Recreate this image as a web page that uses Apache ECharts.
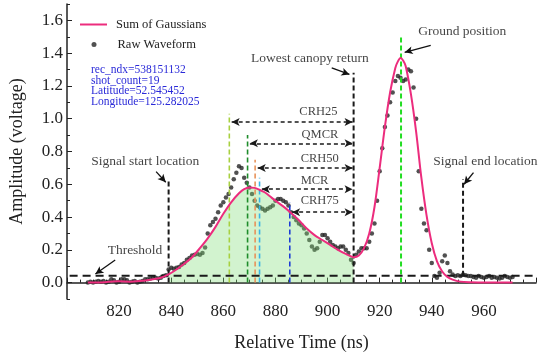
<!DOCTYPE html>
<html><head><meta charset="utf-8">
<script src="https://cdn.jsdelivr.net/npm/echarts@6/dist/echarts.min.js"></script>
<style>html,body{margin:0;padding:0;background:#fff}#c{width:548px;height:357px}</style>
</head><body><div id="c"></div>
<script>
// ---- data ----
const xLabelValues = [820, 840, 860, 880, 900, 920, 940, 960];
const yLabelValues = [0, 0.2, 0.4, 0.6, 0.8, 1.0, 1.2, 1.4, 1.6];
const yMinorValues = [-0.1, 0.1, 0.3, 0.5, 0.7, 0.9, 1.1, 1.3, 1.5, 1.7];

// Sum of Gaussians (fitted curve)
const curveTime = [808,812,816,820,824,828,832,836,839,842,845,848,851,854,857,860,863,866,868,870,872,874,876,878,880,883,886,889,892,895,898,901,904,907,910,912,914,916,918,920,922,924,926,927,928,929,930,932,934,936,938,940,942,944,946,948,951,955,960,965,971];
const curveAmp  = [0.0,0.0,0.005,0.008,0.006,0.01,0.018,0.03,0.05,0.08,0.115,0.155,0.21,0.27,0.34,0.42,0.49,0.545,0.57,0.58,0.578,0.565,0.55,0.525,0.50,0.465,0.425,0.38,0.33,0.29,0.26,0.23,0.2,0.175,0.155,0.165,0.21,0.3,0.46,0.70,0.95,1.16,1.31,1.35,1.37,1.355,1.32,1.15,0.92,0.64,0.41,0.24,0.13,0.068,0.035,0.018,0.006,0.002,0.0,0.0,0.0];

// Raw waveform, one sample per ns starting at rawStart
const rawStart = 808;
const rawAmp = [
 0.00,0.005,0.00,0.005,0.01,0.005,0.01,0.00,0.005,0.02,0.015,0.00,0.005,0.02,0.02,0.015,0.00,0.005,0.01,0.00,0.005,0.01,0.02,0.02,0.025,0.03,0.03,0.025,0.03,0.04,0.045,
 0.08,0.09,0.085,0.09,0.095,0.11,0.12,0.14,0.15,0.165,0.17,0.175,0.17,0.18,0.215,0.30,0.35,0.37,0.39,0.43,
 0.47,0.49,0.52,0.54,0.58,0.63,0.67,0.71,0.70,0.64,0.61,0.58,0.54,0.50,0.47,0.46,0.45,0.44,0.45,0.46,
 0.47,0.50,0.51,0.51,0.50,0.49,0.47,0.43,0.40,0.38,0.36,0.35,0.33,0.30,0.26,0.22,0.20,0.21,0.25,0.29,
 0.29,0.27,0.25,0.23,0.22,0.21,0.22,0.22,0.20,0.18,0.14,0.12,0.17,0.19,0.21,0.21,0.21,0.25,0.30,0.36,
 0.50,0.68,0.82,0.95,1.02,1.10,1.16,1.23,1.26,1.25,1.23,1.24,1.30,1.29,1.19,1.00,0.68,0.45,0.36,0.32,
 0.20,0.12,0.04,0.03,0.06,0.13,0.165,0.12,0.07,0.05,0.04,0.045,0.04,0.05,0.045,0.04,0.04,0.035,0.03,0.04,
 0.035,0.03,0.035,0.04,0.03,0.035,0.03,0.025,0.03,0.04,0.035,0.03,0.035
];

const fillStart = 839, fillEnd = 910;
const thresholdLevel = 0.042;

// vertical marker lines
const vlineTime   = [839, 910, 928.2, 952, 862.3, 869.3, 872.2, 873.9, 885.5];
const vlineBottom = [0, 0, 0, 0.042, 0, 0, 0, 0, 0];
const vlineTop    = [0.63, 1.28, 1.51, 0.63, 1.03, 0.90, 0.75, 0.64, 0.49];
const vlineColor  = ['#1a1a1a','#1a1a1a','#22dd22','#1a1a1a','#a8d040','#1e8c2a','#e8925a','#3ab4e6','#1a3ad6'];
const vlineWidth  = [2, 2, 2, 2, 1.6, 1.6, 1.6, 1.6, 1.6];

// CRH arrows
const crhNames  = ['CRH25','QMCR','CRH50','MCR','CRH75'];
const crhFrom   = [863.2, 870.2, 873.2, 874.8, 886.4];
const crhLevel  = [0.98, 0.85, 0.70, 0.57, 0.43];
const crhTo     = 909.6;
const crhLabelT = [896.5, 897.1, 897, 895, 897];
const crhLabelV = [1.04, 0.90, 0.755, 0.62, 0.50];

// annotations
const noteText  = ['Lowest canopy return','Ground position','Signal end location','Signal start location','Threshold'];
const noteT     = [893.2, 951.7, 960.6, 830, 826.1];
const noteV     = [1.37, 1.53, 0.74, 0.74, 0.196];
const noteFromT = [901.6, 939.6, 956, 834.2, 818.5];
const noteFromV = [1.31, 1.448, 0.671, 0.677, 0.138];
const noteToT   = [908.4, 929.6, 952.4, 837.9, 810.9];
const noteToV   = [1.27, 1.405, 0.60, 0.612, 0.052];

const infoLines = ['rec_ndx=538151132','shot_count=19','Latitude=52.545452','Longitude=125.282025'];

// ---- chart ----
const FONT = 'Liberation Serif';
const curveData = curveTime.map((t, i) => [t, curveAmp[i]]);
const fillData = curveData.filter(p => p[0] >= fillStart && p[0] <= fillEnd);
const rawData = rawAmp.map((v, i) => [rawStart + i, v]);

const series = [];
series.push({
  name: 'Raw Waveform', type: 'scatter', data: rawData, symbolSize: 4.5,
  itemStyle: { color: '#262626' }, z: 2, silent: true
});
series.push({
  name: 'fill', type: 'line', data: fillData, smooth: 0.3, symbol: 'none',
  lineStyle: { width: 0, opacity: 0 }, areaStyle: { color: 'rgba(128,222,118,0.5)' }, z: 3, silent: true
});
vlineTime.forEach((t, i) => {
  series.push({
    type: 'line', data: [[t, vlineBottom[i]], [t, vlineTop[i]]], symbol: 'none', silent: true,
    lineStyle: { color: vlineColor[i], width: vlineWidth[i], type: [5, 3] }, z: 4
  });
});
series.push({
  type: 'line', data: [[801, thresholdLevel], [979, thresholdLevel]], symbol: 'none', silent: true,
  lineStyle: { color: '#1a1a1a', width: 2, type: [8, 5] }, z: 4
});
series.push({
  name: 'Sum of Gaussians', type: 'line', data: curveData, smooth: 0.3, symbol: 'none',
  lineStyle: { color: '#ec2c7d', width: 2 }, z: 5, silent: true
});
// CRH labels + double-headed arrows
series.push({
  type: 'scatter', symbolSize: 0, silent: true, z: 6,
  data: crhNames.map((n, i) => ({ name: n, value: [crhLabelT[i], crhLabelV[i]] })),
  label: { show: true, position: 'inside', formatter: '{b}', color: '#111', fontFamily: FONT, fontSize: 12.5 },
  markLine: {
    silent: true, symbol: ['arrow', 'arrow'], symbolSize: [6, 8],
    lineStyle: { color: '#1a1a1a', width: 1.5, type: [4, 3] }, label: { show: false },
    data: crhNames.map((n, i) => [{ coord: [crhFrom[i], crhLevel[i]] }, { coord: [crhTo, crhLevel[i]] }])
  }
});
// annotation texts + arrows
series.push({
  type: 'scatter', symbolSize: 0, silent: true, z: 6,
  data: noteText.map((n, i) => ({ name: n, value: [noteT[i], noteV[i]] })),
  label: { show: true, position: 'inside', formatter: '{b}', color: '#111', fontFamily: FONT, fontSize: 13.5 },
  markLine: {
    silent: true, symbol: ['none', 'arrow'], symbolSize: [6, 8],
    lineStyle: { color: '#111', width: 1.3, type: 'solid' }, label: { show: false },
    data: noteText.map((n, i) => [{ coord: [noteFromT[i], noteFromV[i]] }, { coord: [noteToT[i], noteToV[i]] }])
  }
});

const option = {
  animation: false,
  backgroundColor: '#fff',
  grid: { left: 63, right: 12, top: 4, bottom: 49, containLabel: false },
  legend: [
    { data: [{ name: 'Sum of Gaussians', icon: 'rect', itemStyle: { color: '#ec2c7d' } }], left: 75, top: 13,
      itemWidth: 27, itemHeight: 2, selectedMode: false,
      textStyle: { fontFamily: FONT, fontSize: 12.5, color: '#222', padding: [0, 0, 0, 4] } },
    { data: [{ name: 'Raw Waveform', icon: 'circle' }], left: 86.5, top: 33, itemWidth: 5, itemHeight: 5, selectedMode: false,
      textStyle: { fontFamily: FONT, fontSize: 12.5, color: '#222', padding: [0, 0, 0, 16] } }
  ],
  xAxis: {
    type: 'value', min: 800, max: 980, interval: 20,
    name: 'Relative Time (ns)', nameLocation: 'middle', nameGap: 35,
    nameTextStyle: { fontFamily: FONT, fontSize: 18, color: '#222' },
    axisLine: { lineStyle: { color: '#222', width: 1.5 } },
    axisTick: { inside: true, length: 5, lineStyle: { color: '#222' } },
    minorTick: { show: true, splitNumber: 4, length: 3, lineStyle: { color: '#222' } },
    splitLine: { show: false },
    axisLabel: { fontFamily: FONT, fontSize: 17, color: '#222', margin: 4,
      formatter: v => (xLabelValues.indexOf(v) >= 0 ? String(v) : '') }
  },
  yAxis: [{
    type: 'value', min: -0.1, max: 1.7, position: 'left',
    name: 'Amplitude (voltage)', nameLocation: 'middle', nameGap: 41, nameRotate: 90,
    nameTextStyle: { fontFamily: FONT, fontSize: 18, color: '#222' },
    axisLine: { show: true, lineStyle: { color: '#222', width: 1.5 } },
    axisTick: { show: true, inside: true, length: 5, customValues: yLabelValues, lineStyle: { color: '#222' } },
    splitLine: { show: false },
    axisLabel: { customValues: yLabelValues, fontFamily: FONT, fontSize: 17, color: '#222', margin: 4,
      formatter: v => v.toFixed(1) }
  }, {
    type: 'value', min: -0.1, max: 1.7, position: 'left',
    axisLine: { show: false }, splitLine: { show: false }, axisLabel: { show: false },
    axisTick: { show: true, inside: true, length: 3, customValues: yMinorValues, lineStyle: { color: '#222' } }
  }],
  graphic: [{
    type: 'text', left: 91, top: 64, silent: true,
    style: { text: infoLines.join('\n'), fontFamily: FONT, fontSize: 11.5, lineHeight: 10.7, fill: '#2a2ad8' }
  }],
  series: series
};
const chart = echarts.init(document.getElementById('c'), null, { renderer: 'canvas' });
chart.setOption(option);
</script>
</body></html>
